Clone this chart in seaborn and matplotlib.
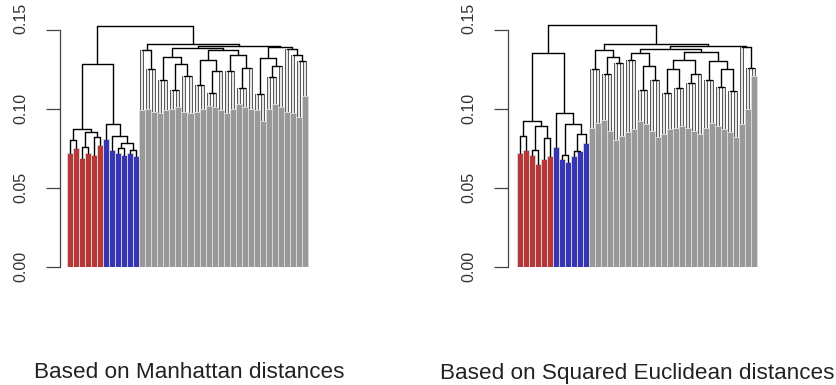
import numpy as np
import pandas as pd
import matplotlib
matplotlib.use("Agg")
import matplotlib.pyplot as plt
import matplotlib.transforms as mtransforms
import seaborn as sns

sns.set_style("white")
plt.rcParams['font.family'] = ['Liberation Sans', 'DejaVu Sans']

# leaf groups in dendrogram order
group_names = ['cl1', 'cl2', 'cl3']
group_sizes = [6, 6, 28]
group_colors = ['#CD2222', '#1F1FCC', '#999999']

# bar (leaf) heights, left to right
manhattan_heights = [0.072, 0.075, 0.069, 0.072, 0.071, 0.077,
                     0.081, 0.074, 0.072, 0.071, 0.072, 0.070,
                     0.099, 0.100, 0.098, 0.097, 0.099, 0.100, 0.101,
                     0.098, 0.097, 0.098, 0.100, 0.102, 0.101, 0.099,
                     0.097, 0.100, 0.103, 0.101, 0.100, 0.099, 0.092,
                     0.100, 0.103, 0.101, 0.098, 0.097, 0.095, 0.108]
euclid_heights = [0.072, 0.074, 0.071, 0.065, 0.068, 0.070,
                  0.076, 0.068, 0.066, 0.070, 0.073, 0.078,
                  0.088, 0.091, 0.093, 0.086, 0.080, 0.083, 0.085,
                  0.087, 0.092, 0.090, 0.086, 0.082, 0.084, 0.087,
                  0.088, 0.089, 0.088, 0.086, 0.084, 0.088, 0.091,
                  0.089, 0.087, 0.085, 0.082, 0.090, 0.100, 0.121]

# merges: (first leaf, last leaf, last leaf of left child, height)
manhattan_merges = [
    (0, 1, 0, 0.080), (2, 3, 2, 0.076), (4, 5, 4, 0.082), (2, 5, 3, 0.085),
    (0, 5, 1, 0.087),
    (8, 9, 8, 0.075), (10, 11, 10, 0.074), (8, 11, 9, 0.078), (7, 11, 7, 0.0825),
    (6, 11, 6, 0.0905), (0, 11, 5, 0.128),
    (13, 14, 13, 0.125), (12, 14, 12, 0.137),
    (15, 16, 15, 0.118), (17, 18, 17, 0.112), (19, 20, 19, 0.121),
    (17, 20, 18, 0.128), (15, 20, 16, 0.133),
    (21, 22, 21, 0.115), (23, 24, 23, 0.110), (23, 25, 24, 0.124),
    (21, 25, 22, 0.131),
    (26, 27, 26, 0.124), (28, 29, 28, 0.113), (28, 30, 29, 0.126),
    (26, 30, 27, 0.134),
    (31, 32, 31, 0.109), (33, 34, 33, 0.120), (33, 35, 34, 0.127),
    (31, 35, 32, 0.132),
    (38, 39, 38, 0.130), (37, 39, 37, 0.134), (36, 39, 36, 0.138),
    (21, 30, 25, 0.137), (15, 30, 20, 0.1385), (31, 39, 35, 0.139),
    (15, 39, 30, 0.1395), (12, 39, 14, 0.141),
    (0, 39, 11, 0.1525),
]
euclid_merges = [
    (0, 1, 0, 0.0825), (2, 3, 2, 0.074), (4, 5, 4, 0.0815), (2, 5, 3, 0.089),
    (0, 5, 1, 0.0925),
    (7, 8, 7, 0.071), (9, 10, 9, 0.073), (9, 11, 10, 0.084), (7, 11, 8, 0.090),
    (6, 11, 6, 0.097), (0, 11, 5, 0.135),
    (12, 13, 12, 0.125), (14, 15, 14, 0.122), (16, 17, 16, 0.129),
    (14, 17, 15, 0.133), (12, 17, 13, 0.137),
    (18, 19, 18, 0.131), (20, 21, 20, 0.112), (22, 23, 22, 0.118),
    (20, 23, 21, 0.127), (18, 23, 19, 0.135),
    (24, 25, 24, 0.110), (26, 27, 26, 0.113), (24, 27, 25, 0.125),
    (28, 29, 28, 0.116), (28, 30, 29, 0.122), (24, 30, 27, 0.131),
    (31, 32, 31, 0.118), (33, 34, 33, 0.114), (35, 36, 35, 0.111),
    (33, 36, 34, 0.125), (31, 36, 32, 0.130),
    (38, 39, 38, 0.126), (37, 39, 37, 0.139),
    (24, 36, 30, 0.136), (18, 36, 23, 0.138), (18, 39, 36, 0.1395),
    (12, 39, 17, 0.141),
    (0, 39, 11, 0.1527),
]

titles = ['Based on Manhattan distances', 'Based on Squared Euclidean distances']
yticks = [0.0, 0.05, 0.10, 0.15]
ytick_labels = ['0.00', '0.05', '0.10', '0.15']


def draw_tree(ax, heights, merges, groups):
    nodes = {(lo, hi): (split, h) for lo, hi, split, h in merges}

    def edge(x, y0, y1, leaf):
        if leaf is not None and groups[leaf] == group_names[2]:
            ax.plot([x, x], [y0, y1], color='#333333', lw=2.6,
                    solid_capstyle='butt', zorder=3)
            ax.plot([x, x], [y0, y1], color='#ececec', lw=1.4,
                    solid_capstyle='butt', zorder=3.5)
        else:
            ax.plot([x, x], [y0, y1], color='black', lw=1.0, zorder=4)

    def walk(lo, hi):
        if lo == hi:
            return lo, heights[lo], True
        split, h = nodes[(lo, hi)]
        xl, yl, leaf_l = walk(lo, split)
        xr, yr, leaf_r = walk(split + 1, hi)
        edge(xl, yl, h, lo if leaf_l else None)
        edge(xr, yr, h, hi if leaf_r else None)
        ax.plot([xl, xr], [h, h], color='black', lw=1.0, zorder=4)
        return (xl + xr) / 2, h, False

    walk(0, len(heights) - 1)


def draw_panel(ax, heights, merges, xlim):
    groups = []
    for name, n in zip(group_names, group_sizes):
        groups += [name] * n
    df = pd.DataFrame({'leaf': range(len(heights)), 'height': heights, 'group': groups})

    sns.barplot(data=df, x='leaf', y='height', hue='group', palette=group_colors,
                hue_order=group_names, dodge=False, width=1.0, legend=False,
                edgecolor='#dcdcdc', linewidth=0.6, ax=ax)
    draw_tree(ax, heights, merges, groups)

    ax.set_xlim(*xlim)
    ax.set_ylim(0, 0.1593)
    ax.set_xticks([])
    ax.set_xlabel('')
    ax.set_ylabel('')
    ax.set_yticks(yticks)
    ax.set_yticklabels(ytick_labels, rotation=90, va='center', fontsize=11.5, color='#333333')
    ax.tick_params(axis='y', length=10, width=0.9, color='#444444', pad=13, left=True)
    # top label sits a little higher in the original
    top = ax.get_yticklabels()[-1]
    top.set_transform(top.get_transform() +
                      mtransforms.ScaledTranslation(0, 0.11, ax.figure.dpi_scale_trans))
    for s in ['top', 'right', 'bottom']:
        ax.spines[s].set_visible(False)
    ax.spines['left'].set_bounds(0, 0.15)
    ax.spines['left'].set_color('#444444')
    ax.spines['left'].set_linewidth(0.9)
    ax.patch.set_alpha(0)


fig = plt.figure(figsize=(8.36, 3.85), dpi=100)
ax1 = fig.add_axes([60 / 836, 1 - 266.7 / 385, 270 / 836, 251.7 / 385])
ax2 = fig.add_axes([508 / 836, 1 - 266.7 / 385, 272 / 836, 251.7 / 385])

draw_panel(ax1, manhattan_heights, manhattan_merges, (-1.66, 43.15))
draw_panel(ax2, euclid_heights, euclid_merges, (-1.95, 43.4))

fig.text(189 / 836, 1 - 373 / 385, titles[0], ha='center', va='center', fontsize=16.2, color='#222222')
fig.text(637 / 836, 1 - 373 / 385, titles[1], ha='center', va='center', fontsize=16.2, color='#222222')

fig.savefig('out.png', dpi=100)
